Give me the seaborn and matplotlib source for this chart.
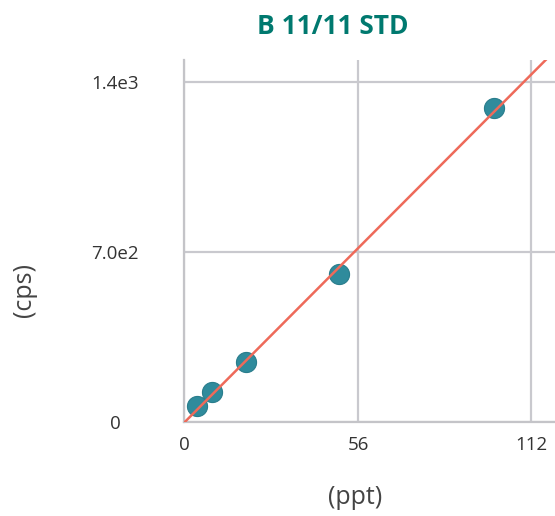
import numpy as np
import pandas as pd
import matplotlib
matplotlib.use("Agg")
import matplotlib.pyplot as plt
import seaborn as sns

# Data
conc_ppt = [4, 9, 20, 50, 100]
signal_cps = [65, 122, 245, 609, 1293]
x_ticks = [0, 56, 112]
x_tick_labels = ["0", "56", "112"]
y_ticks = [0, 700, 1400]
y_tick_labels = ["0", "7.0e2", "1.4e3"]
title = "B 11/11 STD"

sns.set_theme(style="white")
plt.rcParams["font.family"] = ["Open Sans", "DejaVu Sans"]

df = pd.DataFrame({"ppt": conc_ppt, "cps": signal_cps})
slope, intercept = np.polyfit(df["ppt"], df["cps"], 1)
xlim = (0, 119.6)
ylim = (0, 1490)
fit = pd.DataFrame({"ppt": [xlim[0], xlim[1]]})
fit["cps"] = slope * fit["ppt"] + intercept

fig = plt.figure(figsize=(5.55, 5.16), dpi=100)
ax = fig.add_axes([0.3324, 0.1822, 0.6676, 0.7015])

ax.set_xlim(*xlim)
ax.set_ylim(*ylim)
ax.set_xticks(x_ticks)
ax.set_xticklabels(x_tick_labels)
ax.set_yticks(y_ticks)
ax.set_yticklabels(y_tick_labels)
ax.grid(True, color="#c9c9ce", linewidth=1.6)
ax.set_axisbelow(True)

sns.lineplot(data=fit, x="ppt", y="cps", ax=ax, color="#ee6a5a", linewidth=1.8, zorder=4)
sns.scatterplot(data=df, x="ppt", y="cps", ax=ax, s=210, color="#2f8b9c",
                edgecolor="#2a7d8c", linewidth=0.8, zorder=3)

for side in ["top", "right"]:
    ax.spines[side].set_visible(False)
for side in ["left", "bottom"]:
    ax.spines[side].set_color("#c4c4c8")
    ax.spines[side].set_linewidth(1.6)

ax.tick_params(axis="both", length=0, labelsize=13.5, labelcolor="#333333")
ax.tick_params(axis="y", pad=50)
ax.tick_params(axis="x", pad=10)
for lab in ax.get_yticklabels():
    lab.set_horizontalalignment("center")

ax.set_xlabel("")
ax.set_ylabel("")
fig.text(355 / 555, 1 - 497 / 516, "(ppt)", ha="center", va="center", fontsize=18, color="#444444")
fig.text(25 / 555, 1 - 290 / 516, "(cps)", ha="center", va="center", fontsize=18, color="#444444", rotation=90)
fig.text(333 / 555, 1 - 27 / 516, title, ha="center", va="center", fontsize=19,
         fontweight="bold", color="#00796f")

fig.savefig("out.png", dpi=100)
